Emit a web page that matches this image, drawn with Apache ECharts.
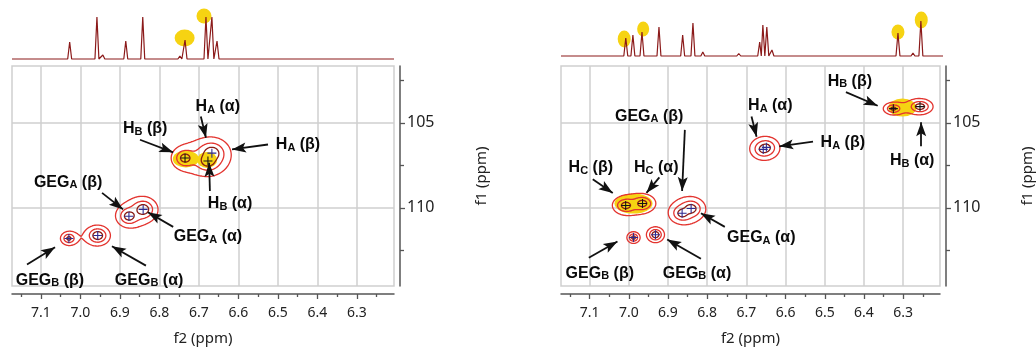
<!DOCTYPE html>
<html>
<head>
<meta charset="utf-8">
<script src="https://cdn.jsdelivr.net/npm/echarts@6.0.0/dist/echarts.min.js"></script>
<style>
html, body { margin: 0; padding: 0; background: #fff; }
#chart { width: 1036px; height: 351px; }
</style>
</head>
<body>
<div id="chart"></div>
<script>
// 刻度
var f2Ticks = [7.1, 7.0, 6.9, 6.8, 6.7, 6.6, 6.5, 6.4, 6.3];
var f1Ticks = [105, 110];

// 顶部一维谱峰 [ppm, 高度]
var leftSpecPeaks = [[7.027, 17], [6.958, 42], [6.943, 4], [6.885, 18], [6.842, 42], [6.778, 1.5], [6.748, 3],
    [6.735, 19], [6.682, 42], [6.667, 42], [6.654, 18], [6.487, 2], [6.434, 1.5], [6.394, 1.5], [6.376, 1.5], [6.234, 1.5]];
var rightSpecPeaks = [[7.009, 18], [6.991, 21], [6.968, 24], [6.925, 29], [6.865, 21], [6.839, 33], [6.814, 4],
    [6.758, 2], [6.723, 2.5], [6.670, 14], [6.662, 31], [6.652, 29], [6.639, 6], [6.556, 1.5], [6.513, 2],
    [6.452, 1.5], [6.429, 2], [6.320, 23], [6.282, 3], [6.262, 35]];
// 谱图上的黄色标记
var leftSpecMarks = [[6.736, 21], [6.687, 43]];
var rightSpecMarks = [[7.013, 17], [6.965, 27], [6.320, 24], [6.261, 36]];

// 二维交叉峰 [f2, f1, 强度, 簇]
var leftPeaks = [[6.735, 107.07, 12, 0], [6.667, 106.78, 20, 0], [6.677, 107.24, 15, 0],
    [6.877, 110.49, 12, 1], [6.841, 110.09, 16, 1],
    [7.029, 111.80, 7, 2], [6.956, 111.63, 16, 2]];
var rightPeaks = [[6.657, 106.56, 6, 0], [6.649, 106.44, 6, 0],
    [6.325, 104.16, 7, 1], [6.257, 104.04, 12, 1],
    [7.008, 109.86, 10, 2], [6.965, 109.74, 10, 2],
    [6.864, 110.32, 9, 3], [6.841, 110.04, 11, 3],
    [6.988, 111.75, 8, 4], [6.932, 111.58, 14, 5]];
// 黄色高亮区域中心
var leftGlow = [[6.733, 107.13], [6.679, 107.18]];
var rightGlow = [[6.988, 109.75], [6.302, 104.10]];

// 标注文字 [文本, f2, f1]
var leftLabels = [['H{s|A} (α)', 6.652, 104.05], ['H{s|B} (β)', 6.836, 105.36], ['H{s|A} (β)', 6.449, 106.27],
    ['H{s|B} (α)', 6.621, 109.75], ['GEG{s|A} (β)', 7.031, 108.50], ['GEG{s|A} (α)', 6.677, 111.69],
    ['GEG{s|B} (β)', 7.077, 114.26], ['GEG{s|B} (α)', 6.826, 114.26]];
var rightLabels = [['H{s|B} (β)', 6.436, 102.56], ['H{s|A} (α)', 6.639, 103.99], ['H{s|A} (β)', 6.454, 106.16],
    ['H{s|B} (α)', 6.277, 107.24], ['GEG{s|A} (β)', 6.948, 104.62], ['H{s|C} (β)', 7.097, 107.64],
    ['H{s|C} (α)', 6.930, 107.64], ['GEG{s|A} (α)', 6.662, 111.75], ['GEG{s|B} (β)', 7.074, 113.86],
    ['GEG{s|B} (α)', 6.826, 113.86]];
// 箭头 [起点f2, 起点f1, 终点f2, 终点f1]
var leftArrows = [[6.695, 104.62, 6.682, 105.87], [6.849, 105.99, 6.765, 106.73], [6.525, 106.27, 6.616, 106.56],
    [6.672, 109.01, 6.674, 107.35], [6.945, 109.12, 6.892, 110.09], [6.765, 111.12, 6.829, 110.26],
    [7.135, 113.34, 7.064, 112.32], [6.834, 113.40, 6.920, 112.26]];
var rightArrows = [[6.446, 103.19, 6.365, 103.99], [6.687, 104.62, 6.674, 105.81], [6.530, 106.10, 6.616, 106.38],
    [6.254, 106.38, 6.254, 104.96], [6.857, 105.41, 6.864, 109.01], [7.092, 108.32, 7.041, 109.12],
    [6.922, 108.21, 6.955, 109.12], [6.755, 111.12, 6.816, 110.32], [7.102, 112.94, 7.029, 111.98],
    [6.816, 113.00, 6.902, 111.86]];

// 样式
var font = "'Noto Sans', 'DejaVu Sans', sans-serif";
var labelFont = "'Liberation Sans', Arial, sans-serif";
var leftShape = [[3.5, 3], [3.5, 3], [3.2, 2.6]];
var rightShape = [[4.5, 3.6], [3.8, 2.3], [4, 2.8], [4, 3.2], [2.5, 2.2], [2.5, 2.2]];
var levels = [1, 2.2, 5];
var levelColor = ['#e3342f', '#e3342f', '#8a1c14'];
var leftDarkCross = [0, 2];
var rightDarkCross = [2, 3, 4, 5];
var leftSpecMarkSize = [[20, 17], [15, 15]];
var rightSpecMarkSize = [[13, 17], [12, 15], [13, 15], [13, 17]];
var leftGlowSize = [[26, 17], [20, 16]];
var rightGlowSize = [[38, 20], [28, 18]];
var plusPath = 'path://M4.4,0H5.6V4.4H10V5.6H5.6V10H4.4V5.6H0V4.4H4.4Z';
var arrowPath = 'path://M5,0L10,14L5,11L0,14Z';
var yellow = '#f6d312';

function spikes(peaks) {
    var w = 0.005, pts = [[7.173, 0]];
    peaks.forEach(function (p, i) {
        var prev = peaks[i - 1], next = peaks[i + 1];
        var hiFoot = prev ? Math.min(p[0] + w, (p[0] + prev[0]) / 2) : p[0] + w;
        var loFoot = next ? Math.max(p[0] - w, (p[0] + next[0]) / 2) : p[0] - w;
        pts.push([hiFoot, 0], [p[0], p[1]], [loFoot, 0]);
    });
    pts.push([6.206, 0]);
    return pts;
}

// 等值线（marching squares）
function isoLines(grid, lv, x0, y0) {
    var d = '';
    function t(a, b) { return (lv - a) / (b - a); }
    function pt(x, y) { return x.toFixed(2) + ' ' + y.toFixed(2); }
    for (var j = 0; j < grid.length - 1; j++) {
        for (var i = 0; i < grid[j].length - 1; i++) {
            var a = grid[j][i], b = grid[j][i + 1], c = grid[j + 1][i + 1], e = grid[j + 1][i];
            var ps = [];
            if ((a >= lv) !== (b >= lv)) ps.push([x0 + i + t(a, b), y0 + j]);
            if ((b >= lv) !== (c >= lv)) ps.push([x0 + i + 1, y0 + j + t(b, c)]);
            if ((e >= lv) !== (c >= lv)) ps.push([x0 + i + t(e, c), y0 + j + 1]);
            if ((a >= lv) !== (e >= lv)) ps.push([x0 + i, y0 + j + t(a, e)]);
            for (var k = 0; k + 1 < ps.length; k += 2) {
                d += 'M' + pt(ps[k][0], ps[k][1]) + 'L' + pt(ps[k + 1][0], ps[k + 1][1]);
            }
        }
    }
    return d;
}

function contourSeries(peaks, shape, idx) {
    var ids = [];
    peaks.forEach(function (p) { if (ids.indexOf(p[3]) < 0) ids.push(p[3]); });
    var data = ids.map(function (id) {
        var m = peaks.filter(function (p) { return p[3] === id; });
        var sx = 0, sy = 0;
        m.forEach(function (p) { sx += p[0]; sy += p[1]; });
        return [sx / m.length, sy / m.length, id];
    });
    return {
        type: 'custom', xAxisIndex: idx, yAxisIndex: idx, z: 3, silent: true, data: data,
        renderItem: function (params, api) {
            var id = api.value(2), s = shape[id], pts = [];
            peaks.forEach(function (p) {
                if (p[3] !== id) return;
                var c = api.coord([p[0], p[1]]);
                pts.push([c[0], c[1], p[2]]);
            });
            var xs = pts.map(function (q) { return q[0]; }), ys = pts.map(function (q) { return q[1]; });
            var x0 = Math.floor(Math.min.apply(null, xs)) - 30, y0 = Math.floor(Math.min.apply(null, ys)) - 30;
            var nx = Math.ceil(Math.max.apply(null, xs)) + 30 - x0, ny = Math.ceil(Math.max.apply(null, ys)) + 30 - y0;
            var grid = [];
            for (var j = 0; j <= ny; j++) {
                var row = [];
                for (var i = 0; i <= nx; i++) {
                    var v = 0;
                    for (var k = 0; k < pts.length; k++) {
                        var dx = (x0 + i - pts[k][0]) / s[0], dy = (y0 + j - pts[k][1]) / s[1];
                        v += pts[k][2] / (1 + dx * dx + dy * dy);
                    }
                    row.push(v);
                }
                grid.push(row);
            }
            var children = [];
            levels.forEach(function (lv, n) {
                var d = isoLines(grid, lv, x0, y0);
                if (d) {
                    children.push({
                        type: 'path', shape: { pathData: d },
                        style: { stroke: levelColor[n], fill: 'none', lineWidth: 1.3, lineCap: 'round' }
                    });
                }
            });
            return { type: 'group', children: children };
        }
    };
}

function crossSeries(peaks, dark, idx) {
    return {
        type: 'scatter', xAxisIndex: idx, yAxisIndex: idx, z: 5, silent: true,
        symbol: plusPath, symbolSize: 9,
        data: peaks.map(function (p) { return [p[0], p[1]]; }),
        itemStyle: { color: function (p) { return dark.indexOf(p.dataIndex) >= 0 ? '#141414' : '#2d2a8e'; }, opacity: 1 },
        emphasis: { disabled: true }
    };
}

function glowSeries(pos, size, idx, z) {
    return {
        type: 'scatter', xAxisIndex: idx, yAxisIndex: idx, z: z, silent: true, symbol: 'circle',
        data: pos.map(function (p, i) { return { value: p, symbolSize: size[i] }; }),
        itemStyle: { color: yellow, opacity: 1 },
        emphasis: { disabled: true }
    };
}

function labelSeries(labels, arrows, idx) {
    return {
        type: 'scatter', xAxisIndex: idx, yAxisIndex: idx, z: 6, silent: true,
        symbolSize: 1, itemStyle: { color: 'rgba(0,0,0,0)', opacity: 1 },
        data: labels.map(function (l) { return { name: l[0], value: [l[1], l[2]] }; }),
        label: {
            show: true, position: 'inside', formatter: function (p) { return p.name; },
            color: '#0a0a0a', opacity: 1, textBorderWidth: 0, fontFamily: labelFont, fontWeight: 'bold', fontSize: 16, lineHeight: 16,
            rich: { s: { fontSize: 11, fontWeight: 'bold', fontFamily: labelFont, color: '#0a0a0a', verticalAlign: 'bottom', lineHeight: 17 } }
        },
        emphasis: { disabled: true },
        markLine: {
            silent: true, animation: false,
            symbol: ['none', arrowPath], symbolSize: 14, symbolKeepAspect: true, symbolOffset: [0, [0, 7]],
            label: { show: false },
            lineStyle: { color: '#111', width: 1.8, type: 'solid', opacity: 1 },
            emphasis: { disabled: true },
            data: arrows.map(function (a) { return [{ coord: [a[0], a[1]] }, { coord: [a[2], a[3]] }]; })
        }
    };
}

function f2Axis(idx) {
    return {
        type: 'value', gridIndex: idx, min: 6.206, max: 7.173, inverse: true, splitNumber: 10, offset: 8,
        name: 'f2 (ppm)', nameLocation: 'middle', nameGap: 37,
        nameTextStyle: { fontSize: 15, color: '#222', fontFamily: font },
        axisLine: { show: true, onZero: false, lineStyle: { color: '#555', width: 1.5 } },
        axisTick: { show: true, customValues: f2Ticks, length: 5, lineStyle: { color: '#555', width: 1.3 } },
        minorTick: { show: true, splitNumber: 2, length: 3, lineStyle: { color: '#555', width: 1.3 } },
        axisLabel: { customValues: f2Ticks, formatter: function (v) { return v.toFixed(1); }, fontSize: 14, color: '#222', margin: 12, fontFamily: font },
        splitLine: { show: true, lineStyle: { color: '#cfcfcf', width: 1.5 } }
    };
}

function f1Axis(idx) {
    return {
        type: 'value', gridIndex: idx, min: 101.65, max: 114.6, inverse: true, splitNumber: 3,
        position: 'right', offset: 6,
        name: 'f1 (ppm)', nameLocation: 'middle', nameGap: 74, nameRotate: 90,
        nameTextStyle: { fontSize: 15, color: '#222', fontFamily: font },
        axisLine: { show: true, onZero: false, lineStyle: { color: '#555', width: 1.5 } },
        axisTick: { show: true, customValues: f1Ticks, length: 5, lineStyle: { color: '#555', width: 1.3 } },
        minorTick: { show: true, splitNumber: 2, length: 4, lineStyle: { color: '#555', width: 1.3 } },
        axisLabel: { customValues: f1Ticks, fontSize: 16, color: '#222', margin: 7, fontFamily: font },
        splitLine: { show: true, lineStyle: { color: '#cfcfcf', width: 1.5 } }
    };
}

function specX(idx) { return { type: 'value', gridIndex: idx, min: 6.206, max: 7.173, inverse: true, show: false }; }
function specY(idx) { return { type: 'value', gridIndex: idx, min: -1, max: 48, show: false }; }

var chart = echarts.init(document.getElementById('chart'), null, { renderer: 'canvas' });
chart.setOption({
    animation: false,
    backgroundColor: '#fff',
    grid: [
        { left: 12, top: 66, width: 382, height: 227, show: true, borderColor: '#cfcfcf', borderWidth: 1.5 },
        { left: 561, top: 66, width: 382, height: 227, show: true, borderColor: '#cfcfcf', borderWidth: 1.5 },
        { left: 12, top: 11, width: 382, height: 49 },
        { left: 561, top: 8, width: 382, height: 49 }
    ],
    xAxis: [f2Axis(0), f2Axis(1), specX(2), specX(3)],
    yAxis: [f1Axis(0), f1Axis(1), specY(2), specY(3)],
    series: [
        { type: 'line', xAxisIndex: 2, yAxisIndex: 2, z: 3, silent: true, symbol: 'none', data: spikes(leftSpecPeaks),
          lineStyle: { color: '#8b1a1a', width: 1.2 } },
        glowSeries(leftSpecMarks, leftSpecMarkSize, 2, 2),
        { type: 'line', xAxisIndex: 3, yAxisIndex: 3, z: 3, silent: true, symbol: 'none', data: spikes(rightSpecPeaks),
          lineStyle: { color: '#8b1a1a', width: 1.2 } },
        glowSeries(rightSpecMarks, rightSpecMarkSize, 3, 2),
        glowSeries(leftGlow, leftGlowSize, 0, 1),
        contourSeries(leftPeaks, leftShape, 0),
        crossSeries(leftPeaks, leftDarkCross, 0),
        labelSeries(leftLabels, leftArrows, 0),
        glowSeries(rightGlow, rightGlowSize, 1, 1),
        contourSeries(rightPeaks, rightShape, 1),
        crossSeries(rightPeaks, rightDarkCross, 1),
        labelSeries(rightLabels, rightArrows, 1)
    ]
});
</script>
</body>
</html>
